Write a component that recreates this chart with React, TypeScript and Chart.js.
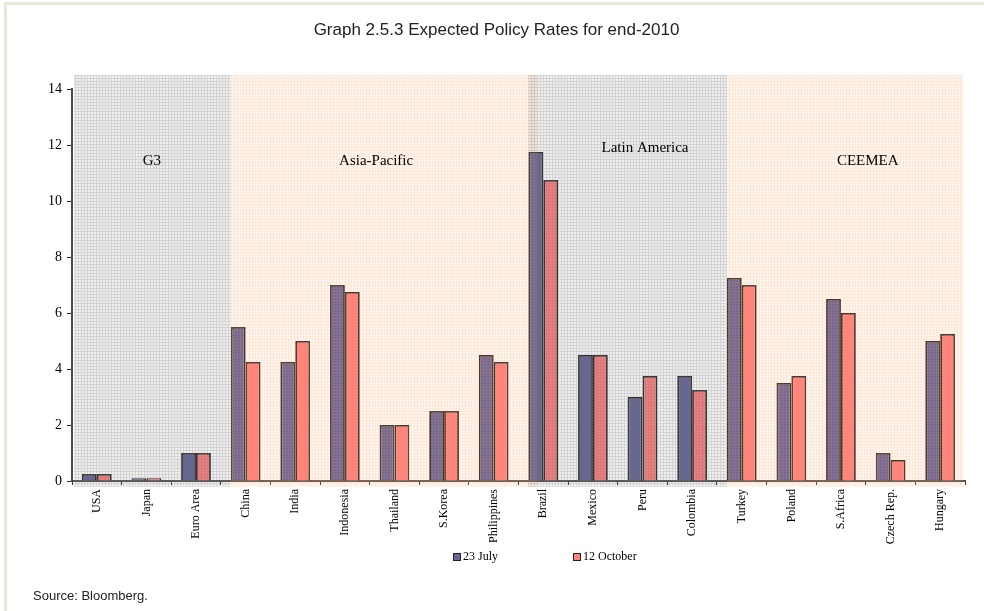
import React, { useEffect, useRef } from "react";
import { Chart, registerables } from "chart.js";

Chart.register(...registerables);

// Policy rate expectations (%) by country
const countries = [
  "USA", "Japan", "Euro Area", "China", "India", "Indonesia", "Thailand", "S.Korea",
  "Philippines", "Brazil", "Mexico", "Peru", "Colombia", "Turkey", "Poland",
  "S.Africa", "Czech Rep.", "Hungary",
];
const seriesNames = ["23 July", "12 October"];
const july23 = [0.25, 0.1, 1, 5.5, 4.25, 7, 2, 2.5, 4.5, 11.75, 4.5, 3, 3.75, 7.25, 3.5, 6.5, 1, 5];
const october12 = [0.25, 0.1, 1, 4.25, 5, 6.75, 2, 2.5, 4.25, 10.75, 4.5, 3.75, 3.25, 7, 3.75, 6, 0.75, 5.25];

const yMin = 0;
const yMax = 14;
const yStep = 2;

// Country groups: name and index of the first country in each group
const regionNames = ["G3", "Asia-Pacific", "Latin America", "CEEMEA"];
const regionFirst = [0, 3, 9, 13];
const regionShade = ["grey", "peach", "grey", "peach"];

const TITLE = "Graph 2.5.3 Expected Policy Rates for end-2010";
const SOURCE = "Source: Bloomberg.";

const BLUE = "#666699";
const CORAL = "#FF8080";
const CATEGORY_PCT = 0.6;

function makeGridPattern(ctx: CanvasRenderingContext2D, rgb: string, lineA: number, fillA: number) {
  const c = document.createElement("canvas");
  c.width = 3;
  c.height = 3;
  const g = c.getContext("2d")!;
  g.fillStyle = `rgba(${rgb},${fillA})`;
  g.fillRect(1, 1, 2, 2);
  g.fillStyle = `rgba(${rgb},${lineA})`;
  g.fillRect(0, 0, 3, 1);
  g.fillRect(0, 1, 1, 2);
  return ctx.createPattern(c, "repeat");
}

// Hatched group backgrounds, painted over the bars, plus the group names
const regionPlugin = {
  id: "regionShading",
  afterDatasetsDraw(chart: any, _args: any, opts: any) {
    const { ctx, chartArea, scales } = chart;
    const x = scales.x;
    const y = scales.y;
    const step = x.getPixelForValue(1) - x.getPixelForValue(0);
    const half = (step * CATEGORY_PCT) / 2;
    const patterns: Record<string, CanvasPattern | null> = {
      grey: makeGridPattern(ctx, "110,110,110", 0.3, 0.1),
      peach: makeGridPattern(ctx, "255,160,90", 0.24, 0.09),
    };
    const top = y.getPixelForValue(opts.top);
    const bottom = y.getPixelForValue(opts.bottom);
    const last = regionNames.length - 1;
    ctx.save();
    regionNames.forEach((_name, i) => {
      const left = i === 0 ? chartArea.left + opts.inset : x.getPixelForValue(regionFirst[i]) - half;
      const right =
        i === last
          ? chartArea.right - opts.inset
          : x.getPixelForValue(regionFirst[i + 1]) - half + (opts.overhang[i] || 0) * step;
      const p = patterns[regionShade[i]];
      if (p) {
        ctx.fillStyle = p;
        ctx.fillRect(left, top, right - left, bottom - top);
      }
    });
    ctx.font = '15px "Liberation Serif"';
    ctx.fillStyle = "#000";
    ctx.textAlign = "center";
    ctx.textBaseline = "middle";
    regionNames.forEach((name, i) => {
      ctx.fillText(name, x.getPixelForValue(opts.labelX[i]), y.getPixelForValue(opts.labelY[i]));
    });
    ctx.restore();
  },
};

// Legend row and source note under the axis
const footerPlugin = {
  id: "footerNotes",
  afterDraw(chart: any, _args: any, opts: any) {
    const { ctx } = chart;
    ctx.save();
    ctx.font = '12px "Liberation Serif"';
    ctx.textBaseline = "middle";
    ctx.textAlign = "left";
    let lx = opts.legendX;
    chart.data.datasets.forEach((ds: any) => {
      const top = opts.legendY - 4;
      ctx.fillStyle = "#222";
      ctx.fillRect(lx, top, 8, 8);
      ctx.fillStyle = ds.backgroundColor;
      ctx.fillRect(lx + 1, top + 1, 6, 6);
      ctx.fillStyle = "#000";
      ctx.fillText(ds.label, lx + 10, opts.legendY);
      lx += opts.legendStep;
    });
    ctx.font = '13px "Liberation Sans"';
    ctx.fillStyle = "#222";
    ctx.fillText(SOURCE, opts.sourceX, opts.sourceY);
    ctx.restore();
  },
};

export default function App() {
  const canvasRef = useRef<HTMLCanvasElement | null>(null);

  useEffect(() => {
    if (!canvasRef.current) return;
    const chart = new Chart(canvasRef.current, {
      type: "bar",
      data: {
        labels: countries,
        datasets: [
          {
            label: seriesNames[0],
            data: july23,
            backgroundColor: BLUE,
            borderColor: "#2e2a2a",
            borderWidth: 1.8,
            categoryPercentage: CATEGORY_PCT,
            barPercentage: 1,
          },
          {
            label: seriesNames[1],
            data: october12,
            backgroundColor: CORAL,
            borderColor: "#2e2a2a",
            borderWidth: 1.8,
            categoryPercentage: CATEGORY_PCT,
            barPercentage: 1,
          },
        ],
      },
      options: {
        animation: false,
        responsive: true,
        maintainAspectRatio: false,
        layout: { padding: { left: 28, right: 19, top: 0, bottom: 60 } },
        plugins: {
          legend: { display: false },
          tooltip: { enabled: false },
          title: {
            display: true,
            text: TITLE,
            color: "#222",
            font: { family: "Liberation Sans", size: 17, weight: "normal" },
            padding: { top: 20, bottom: 48.6 },
          },
          regionShading: {
            top: 14.5,
            bottom: -0.2,
            inset: 2,
            overhang: [0, 0.18, 0, 0],
            labelX: [1.11, 5.63, 11.05, 15.54],
            labelY: [11.43, 11.43, 11.89, 11.43],
          },
          footerNotes: {
            legendX: 453,
            legendStep: 120,
            legendY: 557,
            sourceX: 33,
            sourceY: 596,
          },
        } as any,
        scales: {
          x: {
            ticks: {
              autoSkip: false,
              maxRotation: 90,
              minRotation: 90,
              color: "#000",
              font: { family: "Liberation Serif", size: 12 },
              padding: 4,
            },
            grid: { drawOnChartArea: false, drawTicks: true, tickLength: 4, color: "#333", offset: true },
            border: { color: "#555", width: 2 },
            afterFit: (s: any) => {
              s.height = 70;
            },
          },
          y: {
            min: yMin,
            max: yMax,
            ticks: {
              stepSize: yStep,
              color: "#000",
              font: { family: "Liberation Serif", size: 14 },
              padding: 5,
            },
            grid: { drawOnChartArea: false, drawTicks: true, tickLength: 5, color: "#333" },
            border: { color: "#4a4a4a", width: 2 },
            afterFit: (s: any) => {
              s.width = 44;
            },
          },
        },
      },
      plugins: [regionPlugin, footerPlugin],
    });
    return () => chart.destroy();
  }, []);

  return (
    <div
      style={{
        position: "fixed",
        left: 0,
        top: 0,
        width: 984,
        height: 611,
        background: "#fff",
        overflow: "hidden",
      }}
    >
      <div style={{ position: "absolute", left: 4, top: 2, width: 980, height: 3, background: "#E9E7DA" }} />
      <div style={{ position: "absolute", left: 4, top: 2, width: 3, height: 609, background: "#E9E7DA" }} />
      <canvas ref={canvasRef} style={{ position: "absolute", left: 0, top: 0 }} />
    </div>
  );
}
